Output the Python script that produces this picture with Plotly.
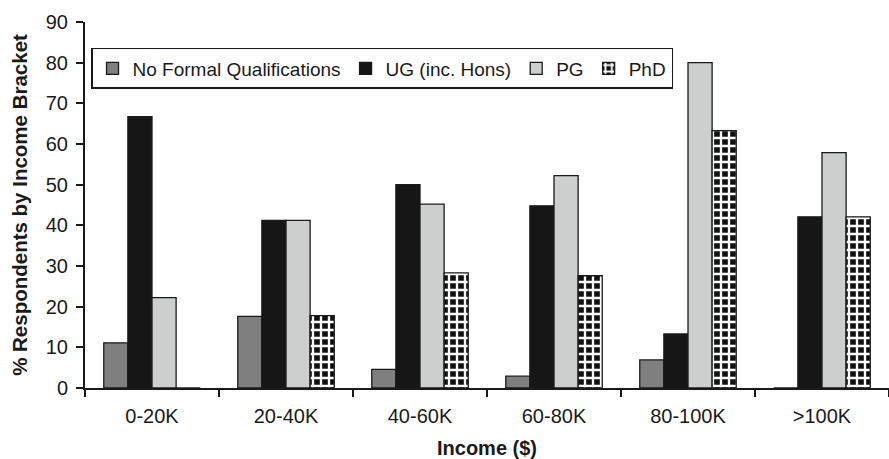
import plotly.graph_objects as go

categories = ["0-20K", "20-40K", "40-60K", "60-80K", "80-100K", ">100K"]
no_formal = [11.1, 17.6, 4.6, 2.9, 6.9, 0]
ug = [66.7, 41.2, 50.0, 44.8, 13.3, 42.1]
pg = [22.2, 41.2, 45.2, 52.2, 80.0, 57.9]
phd = [0, 17.8, 28.3, 27.6, 63.3, 42.1]
y_ticks = [0, 10, 20, 30, 40, 50, 60, 70, 80, 90]

FONT = "Liberation Sans, Arial, sans-serif"
outline = dict(color="#1a1a1a", width=1.3)

fig = go.Figure()
fig.add_trace(go.Bar(name="No Formal Qualifications", x=categories, y=no_formal,
                     marker=dict(color="#7f7f7f", line=outline)))
fig.add_trace(go.Bar(name="UG (inc. Hons)", x=categories, y=ug,
                     marker=dict(color="#161616", line=outline)))
fig.add_trace(go.Bar(name="PG", x=categories, y=pg,
                     marker=dict(color="#cdcfcf", line=outline)))
fig.add_trace(go.Bar(name="PhD", x=categories, y=phd,
                     marker=dict(color="white", line=outline,
                                 pattern=dict(shape="+", fgcolor="white", bgcolor="#111111",
                                              size=8, solidity=0.5, fillmode="replace"))))

fig.update_layout(
    width=889, height=459,
    margin=dict(l=85, r=0, t=22, b=71, autoexpand=False),
    paper_bgcolor="white", plot_bgcolor="white",
    barmode="group", bargap=0.28, bargroupgap=0,
    font=dict(family=FONT, size=19, color="#1a1a1a"),
    showlegend=True,
    legend=dict(orientation="h", x=0.0075, xanchor="left", y=0.929, yanchor="top",
                bgcolor="white", bordercolor="#1a1a1a", borderwidth=1.5,
                font=dict(family=FONT, size=19, color="#1a1a1a"),
                itemwidth=30, traceorder="normal"),
)
fig.update_xaxes(
    type="category", showline=True, linecolor="#1a1a1a", linewidth=2,
    ticks="outside", tickson="boundaries", ticklen=7, tickwidth=2, tickcolor="#1a1a1a",
    showgrid=False, zeroline=False, ticklabelstandoff=9,
    tickfont=dict(family=FONT, size=20, color="#1a1a1a"),
    title=dict(text="<b>Income ($)</b>", font=dict(family=FONT, size=20, color="#1a1a1a"), standoff=19),
    automargin=False,
)
fig.update_yaxes(
    range=[0, 90], tickvals=y_ticks, showline=True, linecolor="#1a1a1a", linewidth=2,
    ticks="outside", ticklen=7, tickwidth=2, tickcolor="#1a1a1a",
    showgrid=False, zeroline=False, ticklabelstandoff=4,
    tickfont=dict(family=FONT, size=20, color="#1a1a1a"),
    title=dict(text="<b>% Respondents by Income Bracket</b>", font=dict(family=FONT, size=20.5, color="#1a1a1a"), standoff=13),
    automargin=False,
)

fig.write_html("out.html")
